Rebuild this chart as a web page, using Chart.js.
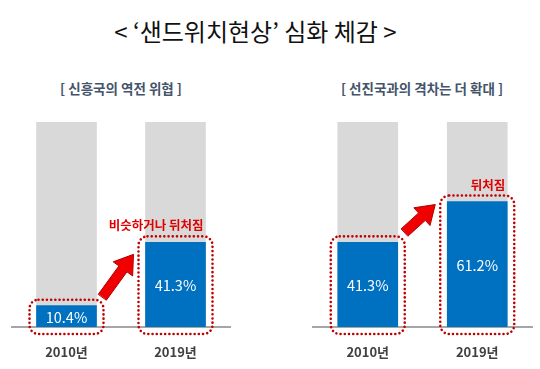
<!DOCTYPE html>
<html>
<head>
<meta charset="utf-8">
<script src="https://cdn.jsdelivr.net/npm/chart.js@4.4.1/dist/chart.umd.min.js"></script>
<style>
  html, body { margin: 0; padding: 0; background: #ffffff; }
  body { width: 540px; height: 369px; position: relative; overflow: hidden;
         font-family: "Noto Sans CJK KR", "Noto Sans", sans-serif; }
  #title { position: absolute; left: 0; width: 511px; top: 12px; text-align: center;
           font-size: 24px; color: #111111; line-height: 38px; white-space: nowrap; }
  .sub { position: absolute; top: 78px; font-size: 13.5px; font-weight: bold; color: #44546A;
         text-align: center; line-height: 20px; white-space: nowrap; }
  canvas { position: absolute; top: 100px; }
</style>
</head>
<body>
<div id="title">&lt; ‘샌드위치현상’ 심화 체감 &gt;</div>
<div class="sub" id="sub1" style="left:0; width:242px;">[ 신흥국의 역전 위협 ]</div>
<div class="sub" id="sub2" style="left:270px; width:304px;">[ 선진국과의 격차는 더 확대 ]</div>
<canvas id="c1" width="270" height="269" style="left:0;"></canvas>
<canvas id="c2" width="270" height="269" style="left:270px;"></canvas>
<script>
// ---- data ----
const categories = ['2010년', '2019년'];
const emergingShare = [10.4, 41.3];   // 신흥국의 역전 위협
const advancedShare = [41.3, 61.2];   // 선진국과의 격차는 더 확대
const fullScale = [100, 100];
const note1 = '비슷하거나 뒤처짐';
const note2 = '뒤처짐';

const BLUE = '#0070C0', GRAY = '#D9D9D9', RED = '#E00000', DOT = '#C00000';
const FONT = '"Noto Sans CJK KR", "Noto Sans", sans-serif';

function drawArrow(ctx, x0, y0, x1, y1, shaftW, headW, headL) {
  const dx = x1 - x0, dy = y1 - y0, len = Math.hypot(dx, dy);
  const ux = dx / len, uy = dy / len, px = -uy, py = ux;
  const bx = x1 - ux * headL, by = y1 - uy * headL;
  ctx.beginPath();
  ctx.moveTo(x0 + px * shaftW / 2, y0 + py * shaftW / 2);
  ctx.lineTo(bx + px * shaftW / 2, by + py * shaftW / 2);
  ctx.lineTo(bx + px * headW / 2, by + py * headW / 2);
  ctx.lineTo(x1, y1);
  ctx.lineTo(bx - px * headW / 2, by - py * headW / 2);
  ctx.lineTo(bx - px * shaftW / 2, by - py * shaftW / 2);
  ctx.lineTo(x0 - px * shaftW / 2, y0 - py * shaftW / 2);
  ctx.closePath();
  ctx.fillStyle = '#F00000';
  ctx.fill();
  ctx.strokeStyle = '#B00000';
  ctx.lineWidth = 1;
  ctx.stroke();
}

const overlay = {
  id: 'overlay',
  afterDatasetsDraw(chart, args, opts) {
    const ctx = chart.ctx;
    const bars = chart.getDatasetMeta(0).data;
    const base = chart.scales.y.getPixelForValue(0);
    ctx.save();
    // value labels
    ctx.fillStyle = '#FFFFFF';
    ctx.font = '14.5px ' + FONT;
    ctx.textAlign = 'center';
    ctx.textBaseline = 'middle';
    bars.forEach((b, i) => {
      const v = chart.data.datasets[0].data[i];
      ctx.fillText(v.toFixed(1) + '%', b.x, (b.y + base) / 2 + 1);
    });
    // dotted boxes
    ctx.strokeStyle = DOT;
    ctx.lineWidth = 2.6;
    ctx.lineCap = 'round';
    ctx.setLineDash([0.01, 4.2]);
    bars.forEach((b) => {
      const half = b.width / 2;
      const x = b.x - half - 7, y = b.y - 6;
      const w = b.width + 14, h = base + 7 - y;
      ctx.beginPath();
      ctx.roundRect(x, y, w, h, 9);
      ctx.stroke();
    });
    ctx.setLineDash([]);
    // arrow
    const a = opts.arrow;
    const b0 = bars[0], b1 = bars[1];
    const x0 = b0.x + b0.width / 2 + a.a, y0 = (a.fromTop ? b0.y : base) - a.b;
    const x1 = b1.x - b1.width / 2 - a.c, y1 = b1.y + a.d;
    drawArrow(ctx, x0, y0, x1, y1, 10, 24, 18);
    // note
    ctx.fillStyle = RED;
    ctx.font = 'bold 12.5px ' + FONT;
    ctx.textAlign = 'right';
    ctx.textBaseline = 'alphabetic';
    ctx.fillText(opts.note, b1.x + b1.width / 2 - 2, b1.y - 12);
    ctx.restore();
  }
};

function makeChart(id, values, note, arrow, padding) {
  return new Chart(document.getElementById(id), {
    type: 'bar',
    data: {
      labels: categories,
      datasets: [
        { data: values, backgroundColor: BLUE, order: 0, grouped: false, barThickness: 60 },
        { data: fullScale, backgroundColor: GRAY, order: 1, grouped: false, barThickness: 60 }
      ]
    },
    options: {
      responsive: false,
      animation: false,
      devicePixelRatio: 1,
      layout: { padding: padding },
      plugins: { legend: { display: false }, tooltip: { enabled: false }, overlay: { note: note, arrow: arrow } },
      scales: {
        y: { display: false, min: 0, max: 100 },
        x: {
          afterFit(scale) { scale.height = 42; },
          grid: { display: false, drawTicks: false },
          border: { display: true, color: '#A6A6A6', width: 2 },
          ticks: { color: '#404040', padding: 17, font: { family: FONT, size: 13, weight: 'bold' } }
        }
      }
    },
    plugins: [overlay]
  });
}

makeChart('c1', emergingShare, note1, { a: 6, b: 30, c: 12, d: 12 }, { left: 12, right: 40, top: 22, bottom: 0 });
makeChart('c2', advancedShare, note2, { a: 7, b: 10, c: 12, d: 3, fromTop: true }, { left: 43, right: 8, top: 22, bottom: 0 });
</script>
</body>
</html>
